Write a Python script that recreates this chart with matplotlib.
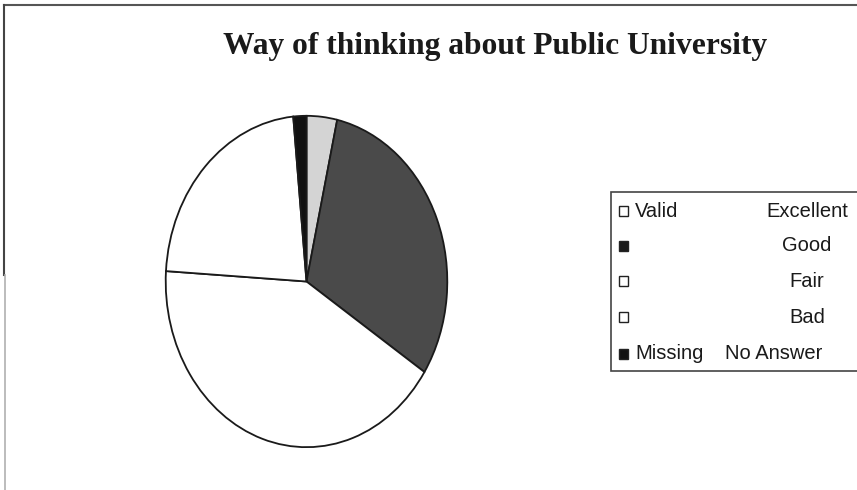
import matplotlib.pyplot as plt
from matplotlib.patches import Rectangle
from matplotlib.lines import Line2D

# data (percent of respondents)
categories = ["Excellent", "Good", "Fair", "Bad", "No Answer"]
groups = ["Valid", "", "", "", "Missing"]
values = [3.5, 30.7, 41.8, 22.5, 1.5]
slice_colors = ["#d4d4d4", "#4a4a4a", "#ffffff", "#ffffff", "#111111"]
marker_colors = ["#ffffff", "#1a1a1a", "#ffffff", "#ffffff", "#111111"]

W, H = 857, 490
fig = plt.figure(figsize=(W / 100, H / 100), dpi=100)

# pie is drawn as an ellipse: axes box = ellipse bounding box
ax = fig.add_axes([165 / W, 1 - 448 / H, 283 / W, 333 / H])
ax.pie(
    values,
    colors=slice_colors,
    startangle=90,
    counterclock=False,
    wedgeprops=dict(edgecolor="#1a1a1a", linewidth=1.3),
)
ax.set_aspect("auto")
ax.set_xlim(-1.005, 1.005)
ax.set_ylim(-1.005, 1.005)
ax.axis("off")

# overlay in pixel coords for frame, title and legend
ov = fig.add_axes([0, 0, 1, 1], zorder=-1)
ov.set_xlim(0, W)
ov.set_ylim(H, 0)
ov.axis("off")

ov.add_line(Line2D([4, W], [5, 5], color="#555555", lw=1.5))
ov.add_line(Line2D([4, 4], [5, 275], color="#444444", lw=1.5))
ov.add_line(Line2D([5, 5], [275, H], color="#b0b0b0", lw=1.2))

ov.text(
    495, 54, "Way of thinking about Public University",
    ha="center", va="baseline", fontsize=22.7, fontweight="bold",
    family="Liberation Serif", color="#1a1a1a",
)

# legend box (runs off the right edge of the picture)
leg = fig.add_axes([0, 0, 1, 1], zorder=3)
leg.set_xlim(0, W)
leg.set_ylim(H, 0)
leg.axis("off")
leg.add_patch(Rectangle((611.5, 192), 300, 179, facecolor="white",
                        edgecolor="#444444", lw=1.2, clip_on=False))

row_y = [211, 245.5, 281, 317, 353.5]
for i, (g, c) in enumerate(zip(groups, categories)):
    y = row_y[i]
    leg.add_patch(Rectangle((619, y - 5), 9.5, 10, facecolor=marker_colors[i],
                            edgecolor="#222222", lw=1.0))
    if g:
        leg.text(635, y, g, ha="left", va="center", fontsize=14.5,
                 family="Liberation Sans", color="#1a1a1a")
    if c == "No Answer":
        leg.text(725, y, c, ha="left", va="center", fontsize=14.5,
                 family="Liberation Sans", color="#1a1a1a")
    else:
        leg.text(807, y, c, ha="center", va="center", fontsize=14.5,
                 family="Liberation Sans", color="#1a1a1a")

fig.savefig("out.png", dpi=100, facecolor="white")
